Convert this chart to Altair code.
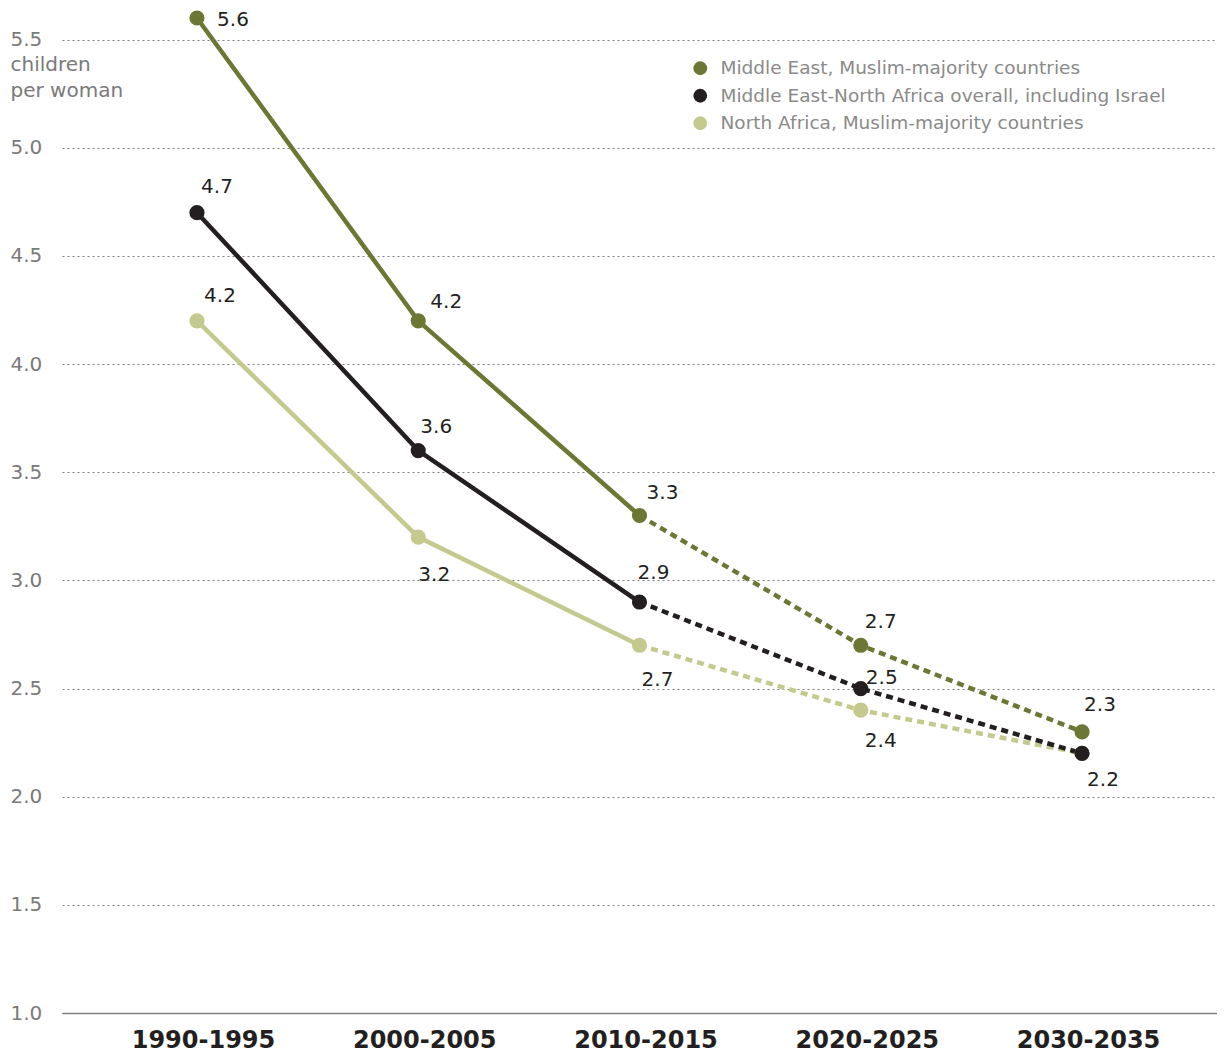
import altair as alt
import pandas as pd

periods = ["1990-1995", "2000-2005", "2010-2015", "2020-2025", "2030-2035"]
series_names = [
    "Middle East, Muslim-majority countries",
    "Middle East-North Africa overall, including Israel",
    "North Africa, Muslim-majority countries",
]
me_values = [5.6, 4.2, 3.3, 2.7, 2.3]
mena_values = [4.7, 3.6, 2.9, 2.5, 2.2]
na_values = [4.2, 3.2, 2.7, 2.4, 2.2]
series_colors = ["#6b7733", "#231f20", "#c4ca8d"]

# value-label placement (pixel offsets from each point)
me_dx = [36, 28, 23, 20, 18]
me_dy = [2, -19, -23, -23, -27]
mena_dx = [20, 18, 14, 21, 21]
mena_dy = [-26, -24, -29, -11, 27]
na_dx = [23, 16, 18, 20, 0]
na_dy = [-25, 38, 35, 31, 0]
na_show = [True, True, True, True, False]

rows = []
def add(k, vals, dxs, dys, show=None):
    for i, (p, v) in enumerate(zip(periods, vals)):
        lab = f"{v:.1f}" if (show is None or show[i]) else ""
        rows.append(dict(period=p, value=v, series=series_names[k], hex=series_colors[k],
                         idx=i, label=lab, dx=dxs[i], dy=dys[i]))

# draw order: North Africa, Middle East, overall on top
add(2, na_values, na_dx, na_dy, na_show)
add(0, me_values, me_dx, me_dy)
add(1, mena_values, mena_dx, mena_dy)
df = pd.DataFrame(rows)

FONT = "DejaVu Sans"
W, H = 1155, 995
Y_DOMAIN = [1.0, 5.6]

x_enc = alt.X(
    "period:N", sort=periods,
    scale=alt.Scale(type="point", padding=0.61),
    axis=alt.Axis(title=None, labelFontSize=24, labelFontWeight="bold", labelColor="#231f20",
                  ticks=False, labelPadding=15, domainColor="#7f7f7f", domainWidth=1.5,
                  grid=False, labelAngle=0, labelFont=FONT, labelOffset=6),
)
y_scale = alt.Scale(domain=Y_DOMAIN, nice=False, zero=False)
y_enc = alt.Y(
    "value:Q",
    scale=y_scale,
    axis=alt.Axis(values=[1.0, 1.5, 2.0, 2.5, 3.0, 3.5, 4.0, 4.5, 5.0, 5.5], format=".1f",
                  grid=True, gridDash=[2, 3], gridColor="#808080", gridWidth=1,
                  domain=False, ticks=False, labelAlign="left", labelPadding=52,
                  labelFontSize=20, labelColor="#7a7a7a", labelFont=FONT,
                  title=["children", "per woman"], titleAngle=0, titleAlign="left",
                  titleBaseline="top", titleX=-52, titleY=36, titleFontSize=20,
                  titleFontWeight="normal", titleColor="#7a7a7a", titleFont=FONT,
                  titleLineHeight=26),
)
color_scale = alt.Scale(domain=series_names, range=series_colors)

base = alt.Chart(df)

solid = base.transform_filter("datum.idx <= 2").mark_line(strokeWidth=4.5).encode(
    x=x_enc, y=y_enc,
    stroke=alt.Stroke("hex:N", scale=None),
    detail="series:N",
)
dashed = base.transform_filter("datum.idx >= 2").mark_line(strokeWidth=4.5, strokeDash=[7, 5]).encode(
    x=x_enc, y=y_enc,
    stroke=alt.Stroke("hex:N", scale=None),
    detail="series:N",
)
points = base.mark_point(filled=True, size=230, opacity=1).encode(
    x=x_enc, y=y_enc,
    color=alt.Color("series:N", scale=color_scale,
                    legend=alt.Legend(orient="none", legendX=629, legendY=41, title=None,
                                      symbolType="circle", symbolSize=190, labelFontSize=18.5,
                                      labelColor="#8a8a8a", labelFont=FONT, rowPadding=8.5,
                                      labelOffset=11, padding=0, symbolStrokeWidth=0,
                                      symbolOpacity=1, labelLimit=600)),
)
px_per_unit = H / (Y_DOMAIN[1] - Y_DOMAIN[0])
labels = base.transform_calculate(
    label_y=f"datum.value - datum.dy / {px_per_unit}"
).mark_text(fontSize=20, color="#231f20", font=FONT, align="center",
            baseline="middle").encode(
    x=x_enc,
    y=alt.Y("label_y:Q", scale=y_scale),
    text="label:N",
    xOffset=alt.XOffset("dx:Q", scale=None),
)

chart = alt.layer(solid, dashed, points, labels).properties(
    width=W, height=H,
    autosize=alt.AutoSizeParams(type="none"),
    padding={"left": 54, "top": 10, "right": 0, "bottom": 44},
).configure(font=FONT).configure_view(stroke=None)

chart.save("out.html", embed_options={"renderer": "svg", "actions": False})
